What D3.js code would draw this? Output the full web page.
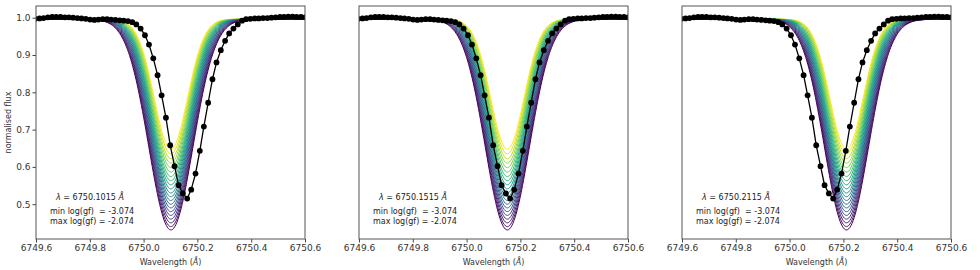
<!DOCTYPE html>
<html>
<head>
<meta charset="utf-8">
<script src="https://cdn.jsdelivr.net/npm/d3@7"></script>
<style>
  body { margin: 0; background: #fff; }
  svg { font-family: "DejaVu Sans", sans-serif; }
</style>
</head>
<body>
<div id="chart"></div>
<script>
// observed spectrum (same in every panel)
const obsWave = [6749.597, 6749.613, 6749.628, 6749.644, 6749.660, 6749.675, 6749.691, 6749.707,
  6749.722, 6749.738, 6749.754, 6749.769, 6749.785, 6749.801, 6749.817, 6749.832, 6749.848,
  6749.864, 6749.879, 6749.895, 6749.911, 6749.926, 6749.942, 6749.958, 6749.973, 6749.989,
  6750.005, 6750.020, 6750.036, 6750.052, 6750.067, 6750.083, 6750.099, 6750.115, 6750.130,
  6750.146, 6750.162, 6750.177, 6750.193, 6750.209, 6750.224, 6750.240, 6750.256, 6750.271,
  6750.287, 6750.303, 6750.318, 6750.334, 6750.350, 6750.366, 6750.381, 6750.397, 6750.413,
  6750.428, 6750.444, 6750.460, 6750.475, 6750.491, 6750.507, 6750.522, 6750.538, 6750.554,
  6750.569, 6750.585, 6750.601];
const obsFlux = [0.997, 0.998, 0.999, 1.001, 1.002, 1.002, 1.002, 1.001,
  1.001, 1.000, 0.999, 0.998, 0.997, 0.995, 0.994, 0.995, 0.996,
  0.996, 0.995, 0.994, 0.993, 0.992, 0.991, 0.988, 0.982, 0.971,
  0.953, 0.928, 0.891, 0.846, 0.792, 0.732, 0.658, 0.602, 0.551,
  0.529, 0.515, 0.539, 0.582, 0.643, 0.708, 0.772, 0.835, 0.880,
  0.913, 0.938, 0.958, 0.971, 0.982, 0.992, 0.996, 0.997, 0.998,
  0.998, 0.999, 0.999, 1.000, 1.001, 1.002, 1.002, 1.003, 1.003,
  1.002, 1.002, 1.001];

// trial line centres, one per panel
const lineCentres = [6750.1015, 6750.1515, 6750.2115];
const centreLabels = ["6750.1015", "6750.1515", "6750.2115"];

// synthetic lines: log(gf) grid, core flux and width
const logGf = [-3.074, -3.024, -2.974, -2.924, -2.874, -2.824, -2.774, -2.724, -2.674, -2.624,
  -2.574, -2.524, -2.474, -2.424, -2.374, -2.324, -2.274, -2.224, -2.174, -2.124, -2.074];
const coreFlux = [0.648, 0.635, 0.622, 0.610, 0.598, 0.586, 0.574, 0.563, 0.552, 0.541,
  0.530, 0.520, 0.510, 0.500, 0.490, 0.480, 0.470, 0.460, 0.450, 0.440, 0.431];
const lineWidth = [0.062, 0.063, 0.064, 0.065, 0.066, 0.067, 0.068, 0.069, 0.070, 0.071,
  0.072, 0.073, 0.074, 0.075, 0.076, 0.077, 0.078, 0.079, 0.080, 0.081, 0.082];
const modelContinuum = 0.996;

const xTicks = [6749.6, 6749.8, 6750.0, 6750.2, 6750.4, 6750.6];
const yTicks = [0.5, 0.6, 0.7, 0.8, 0.9, 1.0];

const width = 980, height = 270;
const panelLeft = [36, 359, 682], panelW = 269;
const plotTop = 6, plotBottom = 239;

const svg = d3.select("#chart").append("svg")
  .attr("width", width).attr("height", height);

const y = d3.scaleLinear().domain([0.4067, 1.0314]).range([plotBottom, plotTop]);
const colour = d3.scaleSequential(d3.interpolateViridis).domain([logGf[logGf.length - 1], logGf[0]]);

// model wavelength sampling
const modelWave = d3.range(6749.6, 6750.6001, 0.004);

lineCentres.forEach((c, p) => {
  const x = d3.scaleLinear().domain([6749.6, 6750.6]).range([panelLeft[p], panelLeft[p] + panelW]);
  const g = svg.append("g");

  g.append("clipPath").attr("id", "clip" + p)
    .append("rect").attr("x", panelLeft[p]).attr("y", plotTop)
    .attr("width", panelW).attr("height", plotBottom - plotTop);

  const plot = g.append("g").attr("clip-path", `url(#clip${p})`);

  const line = d3.line().x(d => x(d[0])).y(d => y(d[1]));

  logGf.forEach((lg, i) => {
    const depth = modelContinuum - coreFlux[i];
    const pts = modelWave.map(w => [w, modelContinuum - depth * Math.exp(-((w - c) ** 2) / (2 * lineWidth[i] ** 2))]);
    plot.append("path")
      .attr("d", line(pts))
      .attr("fill", "none")
      .attr("stroke", colour(lg))
      .attr("stroke-width", 1);
  });

  const obs = obsWave.map((w, i) => [w, obsFlux[i]]);
  plot.append("path")
    .attr("d", line(obs))
    .attr("fill", "none")
    .attr("stroke", "#000")
    .attr("stroke-width", 1.3);
  plot.selectAll("circle").data(obs).join("circle")
    .attr("cx", d => x(d[0])).attr("cy", d => y(d[1]))
    .attr("r", 2.9).attr("fill", "#000");

  // axes
  const xAxis = g.append("g").attr("transform", `translate(0,${plotBottom})`)
    .call(d3.axisBottom(x).tickValues(xTicks).tickFormat(d3.format(".1f")).tickSizeOuter(0).tickSize(3.5).tickPadding(2));
  xAxis.select(".domain").remove();
  xAxis.selectAll("line").attr("stroke", "#444");
  xAxis.selectAll("text").attr("font-size", 9).attr("fill", "#333").attr("font-family", "DejaVu Sans");

  if (p === 0) {
    const yAxis = g.append("g").attr("transform", `translate(${panelLeft[p]},0)`)
      .call(d3.axisLeft(y).tickValues(yTicks).tickFormat(d3.format(".1f")).tickSizeOuter(0).tickSize(3.5).tickPadding(2));
    yAxis.select(".domain").remove();
    yAxis.selectAll("line").attr("stroke", "#444");
    yAxis.selectAll("text").attr("font-size", 9).attr("fill", "#333").attr("font-family", "DejaVu Sans");

    g.append("text")
      .attr("transform", `translate(11,${(plotTop + plotBottom) / 2}) rotate(-90)`)
      .attr("text-anchor", "middle")
      .attr("font-size", 8).attr("fill", "#333")
      .text("normalised flux");
  }

  g.append("rect")
    .attr("x", panelLeft[p]).attr("y", plotTop)
    .attr("width", panelW).attr("height", plotBottom - plotTop)
    .attr("fill", "none").attr("stroke", "#555").attr("stroke-width", 1);

  const xl = g.append("text")
    .attr("x", panelLeft[p] + panelW / 2).attr("y", 265)
    .attr("text-anchor", "middle").attr("font-size", 8).attr("fill", "#333");
  xl.append("tspan").text("Wavelength (");
  xl.append("tspan").attr("font-style", "italic").text("Å");
  xl.append("tspan").text(")");

  // annotation
  const lam = g.append("text")
    .attr("x", panelLeft[p] + 54).attr("y", 200)
    .attr("text-anchor", "middle").attr("font-size", 8).attr("fill", "#222");
  lam.append("tspan").attr("font-style", "italic").text("λ");
  lam.append("tspan").text(" = " + centreLabels[p] + " ");
  lam.append("tspan").attr("font-style", "italic").text("Å");

  g.append("text")
    .attr("x", panelLeft[p] + 14).attr("y", 214)
    .attr("font-size", 8).attr("fill", "#222")
    .attr("xml:space", "preserve")
    .text("min log(gf)  = " + d3.min(logGf).toFixed(3));
  g.append("text")
    .attr("x", panelLeft[p] + 14).attr("y", 224)
    .attr("font-size", 8).attr("fill", "#222")
    .text("max log(gf) = " + d3.max(logGf).toFixed(3));
});
</script>
</body>
</html>
